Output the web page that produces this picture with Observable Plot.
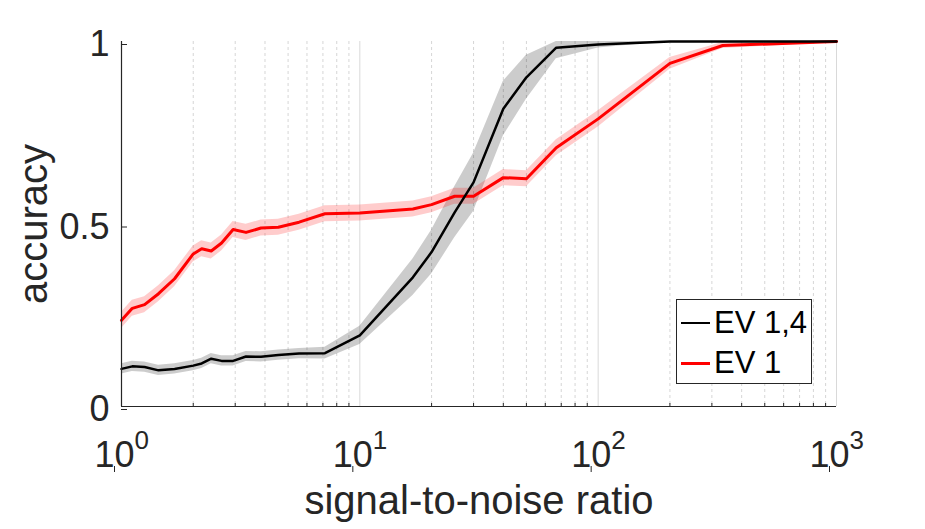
<!DOCTYPE html>
<html>
<head>
<meta charset="utf-8">
<script src="https://cdn.jsdelivr.net/npm/d3@7"></script>
<script src="https://cdn.jsdelivr.net/npm/@observablehq/plot@0.6"></script>
<style>
  html, body { margin: 0; padding: 0; background: #fff; }
  #wrap { position: relative; width: 925px; height: 529px; font-family: "Liberation Sans", Arial, sans-serif; }
  #legend { position: absolute; left: 676px; top: 299px; width: 136px; height: 85px; border: 1.3px solid #262626; background: #fff; box-sizing: border-box; }
  .row { position: absolute; left: 0; height: 40px; display: flex; align-items: center; font-size: 31px; color: #000; }
  .sw { width: 29px; height: 0; margin-left: 4px; margin-right: 4px; }
</style>
</head>
<body>
<div id="wrap"></div>
<script>
// Data
const snr = [1, 1.11, 1.25, 1.43, 1.67, 2, 2.17, 2.38, 2.63, 2.94, 3.33, 3.85, 4.55, 5.56, 7.14, 10, 16.7, 20, 25, 30, 40, 50, 66.7, 100, 200, 333, 1000];
const accEV14 = [0.103, 0.110, 0.108, 0.099, 0.103, 0.112, 0.118, 0.131, 0.125, 0.125, 0.137, 0.136, 0.141, 0.145, 0.146, 0.195, 0.354, 0.423, 0.532, 0.614, 0.816, 0.902, 0.983, 0.992, 1.0, 1.0, 1.0];
const errEV14 = [0.014, 0.014, 0.014, 0.014, 0.014, 0.014, 0.014, 0.014, 0.014, 0.014, 0.014, 0.014, 0.014, 0.014, 0.016, 0.025, 0.05, 0.06, 0.07, 0.08, 0.075, 0.06, 0.03, 0.01, 0.0, 0.0, 0.0];
const accEV1 = [0.236, 0.269, 0.279, 0.309, 0.350, 0.418, 0.432, 0.426, 0.448, 0.485, 0.477, 0.489, 0.491, 0.505, 0.528, 0.530, 0.541, 0.553, 0.576, 0.576, 0.627, 0.624, 0.709, 0.788, 0.940, 0.989, 1.0];
const errEV1 = [0.022, 0.022, 0.022, 0.022, 0.022, 0.022, 0.022, 0.022, 0.022, 0.022, 0.022, 0.022, 0.022, 0.022, 0.022, 0.022, 0.022, 0.022, 0.022, 0.022, 0.022, 0.022, 0.022, 0.022, 0.016, 0.008, 0.003];
const seriesNames = ["EV 1,4", "EV 1"];
const seriesColors = ["#000000", "#ff0000"];
const xMajorTicks = [1, 10, 100, 1000];
const xExponents = ["0", "1", "2", "3"];
const xMinorTicks = [2, 3, 4, 5, 6, 7, 8, 9, 20, 30, 40, 50, 60, 70, 80, 90, 200, 300, 400, 500, 600, 700, 800, 900];
const yTicks = [0, 0.5, 1];
const yTickLabels = ["0", "0.5", "1"];
const xLabel = "signal-to-noise ratio";
const yLabel = "accuracy";

const ev14 = snr.map((x, i) => ({x, y: accEV14[i], lo: accEV14[i] - errEV14[i], hi: Math.min(1, accEV14[i] + errEV14[i])}));
const ev1 = snr.map((x, i) => ({x, y: accEV1[i], lo: accEV1[i] - errEV1[i], hi: Math.min(1, accEV1[i] + errEV1[i])}));

const axisColor = "#262626";
const chart = Plot.plot({
  width: 925,
  height: 529,
  marginLeft: 121,
  marginRight: 89,
  marginTop: 41,
  marginBottom: 123,
  style: {fontFamily: "'Liberation Sans', Arial, sans-serif", background: "#fff", overflow: "visible"},
  x: {type: "log", domain: [1, 1000], axis: null},
  y: {domain: [0, 1], axis: null},
  marks: [
    Plot.ruleX(xMinorTicks, {stroke: "#d6d6d6", strokeWidth: 1, strokeDasharray: "3,3"}),
    Plot.ruleX(xMajorTicks.slice(1), {stroke: "#d9d9d9", strokeWidth: 1}),
    Plot.areaY(ev14, {x: "x", y1: "lo", y2: "hi", fill: seriesColors[0], fillOpacity: 0.2}),
    Plot.areaY(ev1, {x: "x", y1: "lo", y2: "hi", fill: seriesColors[1], fillOpacity: 0.2}),
    Plot.line(ev1, {x: "x", y: "y", stroke: seriesColors[1], strokeWidth: 3}),
    Plot.line(ev14, {x: "x", y: "y", stroke: seriesColors[0], strokeWidth: 2.5}),
    Plot.ruleX([1], {stroke: axisColor, strokeWidth: 1.2}),
    Plot.ruleY([0], {stroke: axisColor, strokeWidth: 1.2}),
    Plot.axisX(xMinorTicks, {anchor: "bottom", label: null, tickSize: -3, fill: "none", stroke: axisColor}),
    Plot.axisX(xMajorTicks, {anchor: "bottom", label: null, tickSize: -6, tickPadding: 0, stroke: axisColor, fill: axisColor, fontSize: 36, lineAnchor: "bottom", dy: 66, dx: -7, tickFormat: () => "10"}),
    Plot.text(xMajorTicks, {x: d => d, text: (d, i) => xExponents[i], frameAnchor: "bottom", lineAnchor: "bottom", textAnchor: "start", dx: 13, dy: 42, fontSize: 26, fill: axisColor}),
    Plot.axisY(yTicks, {anchor: "left", label: null, tickSize: -6, tickPadding: 18, stroke: axisColor, fill: axisColor, fontSize: 36, dy: 3, tickFormat: (d, i) => yTickLabels[i]}),
    Plot.text([xLabel], {frameAnchor: "bottom", lineAnchor: "bottom", textAnchor: "middle", dy: 107, fontSize: 40, fill: axisColor}),
    Plot.text([yLabel], {frameAnchor: "left", lineAnchor: "bottom", textAnchor: "middle", rotate: -90, dx: -75, fontSize: 40, fill: axisColor})
  ]
});

const wrap = document.getElementById("wrap");
wrap.appendChild(chart);

const legend = document.createElement("div");
legend.id = "legend";
seriesNames.forEach((name, i) => {
  const row = document.createElement("div");
  row.className = "row";
  row.style.top = (3 + i * 40) + "px";
  const sw = document.createElement("span");
  sw.className = "sw";
  sw.style.borderTop = (i === 0 ? 2.5 : 3) + "px solid " + seriesColors[i];
  const tx = document.createElement("span");
  tx.textContent = name;
  row.appendChild(sw);
  row.appendChild(tx);
  legend.appendChild(row);
});
wrap.appendChild(legend);
</script>
</body>
</html>
